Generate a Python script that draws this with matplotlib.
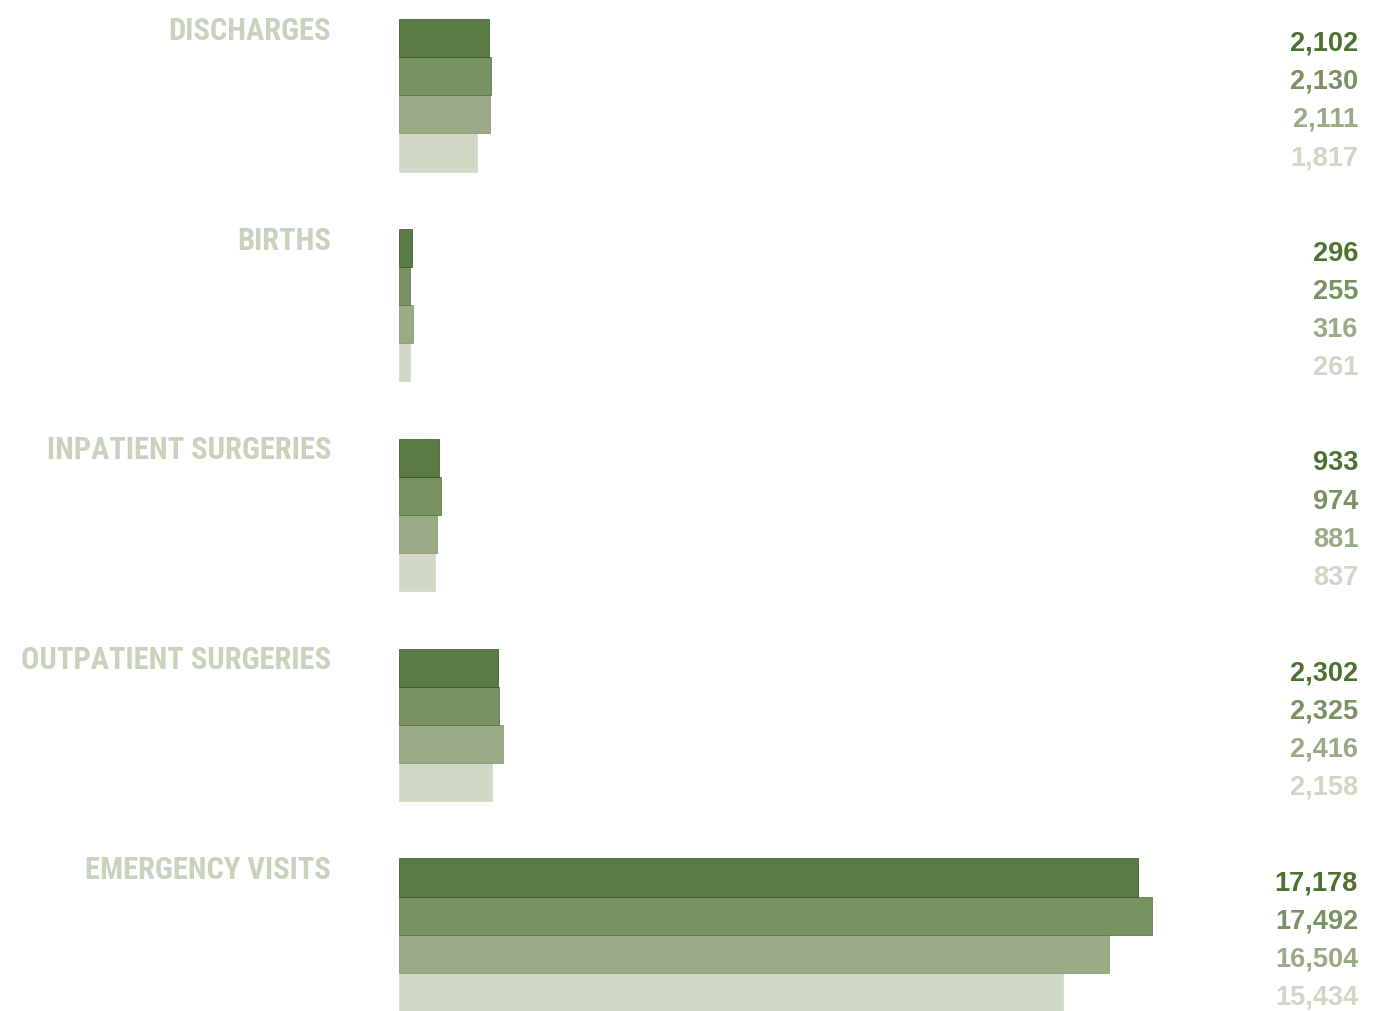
import matplotlib
matplotlib.use("Agg")
import matplotlib.pyplot as plt
import matplotlib.transforms as mtransforms
from matplotlib import font_manager

# Volume data, one value per year (newest first)
categories = ["DISCHARGES", "BIRTHS", "INPATIENT SURGERIES",
              "OUTPATIENT SURGERIES", "EMERGENCY VISITS"]
year1 = [2102, 296, 933, 2302, 17178]
year2 = [2130, 255, 974, 2325, 17492]
year3 = [2111, 316, 881, 2416, 16504]
year4 = [1817, 261, 837, 2158, 15434]

BAR_COLORS = ["#5A7B43", "#789262", "#99AA84", "#D0D9C6"]
EDGE_COLORS = ["#34501F", "#4F6C3A", "#7E9268", "#D0D9C6"]
TEXT_COLORS = ["#4C7131", "#789262", "#99AA84", "#CFD8C5"]
LABEL_COLOR = "#C8D3BE"

# pick a condensed face if one is around, else plain bold sans at a smaller size
names = {f.name for f in font_manager.fontManager.ttflist}
label_font, label_size = "Liberation Sans", 17.5
for cand in ["Liberation Sans Narrow", "Roboto Condensed", "Open Sans Condensed"]:
    if cand in names:
        label_font, label_size = cand, 22
        break
FONT_LABEL = [label_font, "DejaVu Sans"]
FONT_VALUE = ["Liberation Sans", "DejaVu Sans"]

W, H = 1373, 1012
fig = plt.figure(figsize=(W / 100, H / 100), dpi=100)
fig.patch.set_facecolor("white")

left_px = 399
ax = fig.add_axes([left_px / W, 0, (W - left_px) / W, 1])
ax.axis("off")

series = [year1, year2, year3, year4]
group_step = 5.5
bar_h = 1.0

ax.set_xlim(0, max(year2) * (W - left_px) / 753.0)
ax.set_ylim(4 * group_step + 4 * bar_h, -20 / 38.15)

trans = mtransforms.blended_transform_factory(fig.transFigure, ax.transData)

for g, cat in enumerate(categories):
    top = g * group_step
    for i, s in enumerate(series):
        y = top + i * bar_h
        ax.barh(y, s[g], height=bar_h, align="edge", color=BAR_COLORS[i],
                edgecolor=EDGE_COLORS[i], linewidth=0.5, zorder=3 - i * 0.1)
        ax.text(1358 / W, y + 0.62, f"{s[g]:,}", transform=trans,
                ha="right", va="center", fontsize=19.5, fontweight="bold",
                color=TEXT_COLORS[i], family=FONT_VALUE)
    ax.text(331 / W, top + 0.28, cat, transform=trans, ha="right", va="center",
            fontsize=label_size, fontweight="bold", color=LABEL_COLOR,
            family=FONT_LABEL)

fig.savefig("out.png", dpi=100, facecolor="white")
